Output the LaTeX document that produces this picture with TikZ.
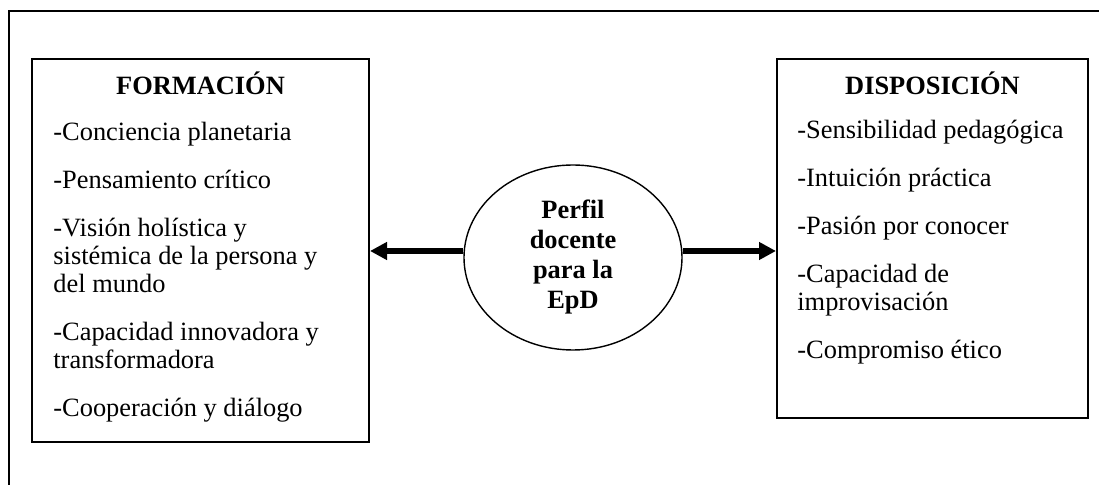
\documentclass[tikz,border=0pt]{standalone}
\usepackage{fontspec}
\setmainfont{Liberation Serif}
\usetikzlibrary{shapes.geometric,arrows.meta}
\begin{document}
\begin{tikzpicture}[x=0.5pt,y=-0.5pt,
  txt/.style={font=\fontsize{13.2}{14}\selectfont, inner sep=0pt, anchor=base west, align=left},
  head/.style={font=\bfseries\fontsize{13.2}{14}\selectfont, inner sep=0pt, anchor=base},
  box/.style={draw, line width=1pt, rectangle, inner sep=0pt},
  arr/.style={line width=2.75pt, -{Triangle[length=8.5pt,width=8.5pt]}}]
\useasboundingbox (0,0) rectangle (1099,485);
% outer frame (clipped at right and bottom)
\coordinate (fbl) at (9,485);
\coordinate (ftl) at (9,11);
\coordinate (ftr) at (1099,11);
\draw[line width=1pt] (fbl) -- (ftl) -- (ftr);
% boxes
\node[box, minimum width=168.5pt, minimum height=191.5pt] (form) at (200.5,250.5) {};
\node[box, minimum width=155.5pt, minimum height=179.5pt] (disp) at (932.5,238.5) {};
% centre ellipse
\node[draw, ellipse, line width=0.7pt, minimum width=109pt, minimum height=92.5pt, inner sep=0pt,
      align=center, font=\bfseries\fontsize{13.2}{15}\selectfont] (perfil) at (573,257.5)
      {Perfil\\docente\\para la\\EpD};
% arrows
\coordinate (pl) at ([yshift=3.25pt]perfil.west);
\coordinate (pr) at ([yshift=3.25pt]perfil.east);
\draw[arr] (pl) -- (pl -| form.east);
\draw[arr] (pr) -- (pr -| disp.west);
% left texts (multi-line nodes anchored at the baseline of their last line)
\node[head] (fh) at (200.5,95) {FORMACIÓN};
\node[txt] (f1) at (53,141) {-Conciencia planetaria};
\node[txt] (f2) at (53,189) {-Pensamiento crítico};
\node[txt] (f3) at (53,293) {-Visión holística y\\sistémica de la persona y\\del mundo};
\node[txt] (f4) at (53,369) {-Capacidad innovadora y\\transformadora};
\node[txt] (f5) at (53,417) {-Cooperación y diálogo};
% right texts
\node[head] (dh) at (932.5,95) {DISPOSICIÓN};
\node[txt] (d1) at (797,139) {-Sensibilidad pedagógica};
\node[txt] (d2) at (797,187) {-Intuición práctica};
\node[txt] (d3) at (797,235) {-Pasión por conocer};
\node[txt] (d4) at (797,311) {-Capacidad de\\improvisación};
\node[txt] (d5) at (797,359) {-Compromiso ético};
\end{tikzpicture}
\end{document}
